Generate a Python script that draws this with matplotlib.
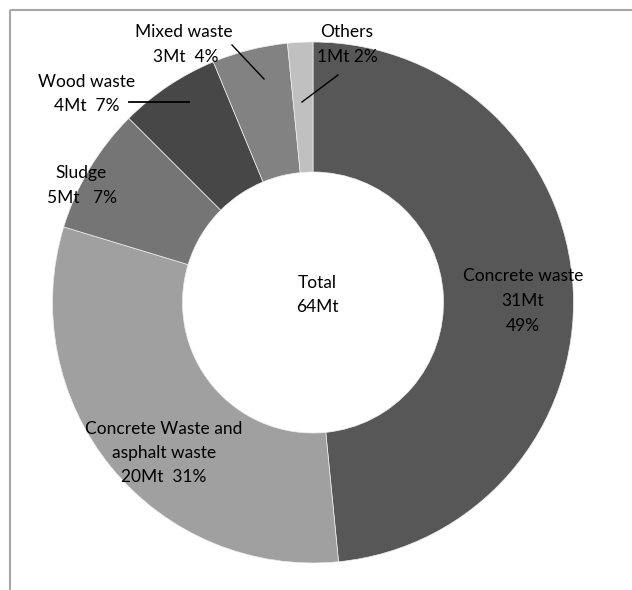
import matplotlib.pyplot as plt

# waste amounts in Mt, clockwise from 12 o'clock
categories = ["Concrete waste", "Concrete Waste and\nasphalt waste", "Sludge",
              "Wood waste", "Mixed waste", "Others"]
amounts = [31, 20, 5, 4, 3, 1]
percent_labels = ["49%", "31%", "7%", "7%", "4%", "2%"]
total_label = "64Mt"

colors = ["#575757", "#a0a0a0", "#757575", "#474747", "#828282", "#c0c0c0"]

W, H = 632, 590
plt.rcParams['font.family'] = ['Lato', 'DejaVu Sans']

fig = plt.figure(figsize=(W / 100, H / 100), dpi=100)
ax = fig.add_axes([0, 0, 1, 1])


# pixel y (from top) -> data y
def py(y):
    return H - y


cx, cy, r_out = 313, py(302.5), 260.5
ax.pie(amounts, colors=colors, startangle=90, counterclock=False,
       center=(cx, cy), radius=r_out, frame=True,
       wedgeprops=dict(width=130, edgecolor="#eeeeee", linewidth=0.5))
ax.set_xlim(0, W)
ax.set_ylim(0, H)
ax.set_aspect('equal')
ax.axis('off')

fs = 12.5
tkw = dict(ha='center', va='center', fontsize=fs, color='black')

# chart area border (only top and left edges visible)
ax.plot([10, W], [py(10), py(10)], color="#a6a6a6", lw=1.5, solid_capstyle='butt')
ax.plot([10, 10], [py(10), 0], color="#a6a6a6", lw=1.5, solid_capstyle='butt')

# data labels
ax.text(523, py(276), categories[0], **tkw)
ax.text(523, py(301), f"{amounts[0]}Mt", **tkw)
ax.text(523, py(326), percent_labels[0], **tkw)

ax.text(164, py(429), "Concrete Waste and", **tkw)
ax.text(164, py(453), "asphalt waste", **tkw)
ax.text(164, py(477), f"{amounts[1]}Mt  {percent_labels[1]}", **tkw)

ax.text(81, py(173), categories[2], **tkw)
ax.text(82, py(198), f"{amounts[2]}Mt   {percent_labels[2]}", **tkw)

ax.text(87, py(82), categories[3], **tkw)
ax.text(87, py(106), f"{amounts[3]}Mt  {percent_labels[3]}", **tkw)
ax.plot([129, 189], [py(102), py(102)], color='black', lw=1.3)

ax.text(184, py(32), categories[4], **tkw)
ax.text(186, py(57), f"{amounts[4]}Mt  {percent_labels[4]}", **tkw)
ax.plot([232, 264], [py(45), py(79)], color='black', lw=1.0)

ax.text(347, py(32), categories[5], **tkw)
ax.text(347, py(57), f"{amounts[5]}Mt {percent_labels[5]}", **tkw)
ax.plot([338, 302], [py(75), py(102)], color='black', lw=1.0)

ax.text(cx + 4, py(283), "Total", **tkw)
ax.text(cx + 4, py(307), total_label, **tkw)

fig.savefig("out.png", dpi=100, facecolor='white')
